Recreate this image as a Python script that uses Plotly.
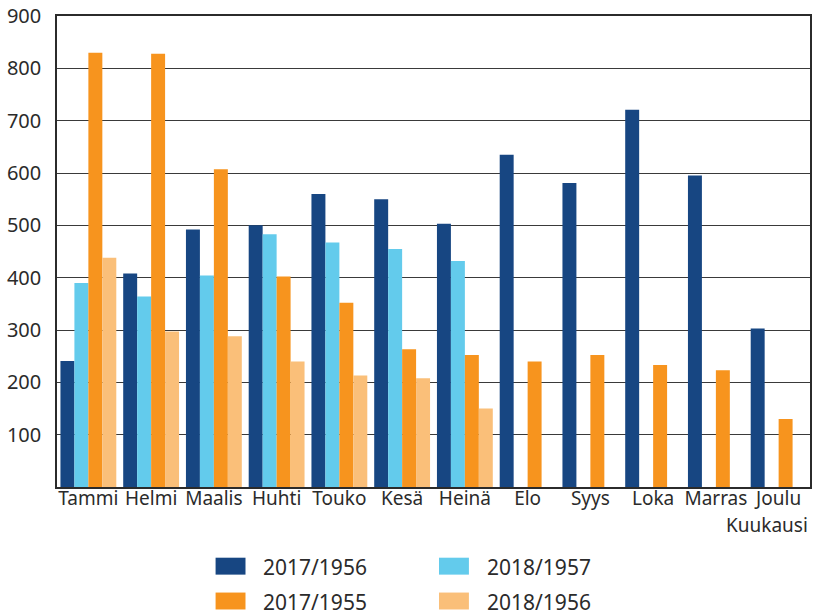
import plotly.graph_objects as go

months = ['Tammi', 'Helmi', 'Maalis', 'Huhti', 'Touko', 'Kesä', 'Heinä',
          'Elo', 'Syys', 'Loka', 'Marras', 'Joulu']

s2017_1956 = [241, 408, 492, 500, 560, 550, 503, 635, 581, 721, 595, 303]
s2018_1957 = [390, 364, 404, 483, 467, 455, 432, None, None, None, None, None]
s2017_1955 = [830, 828, 607, 402, 352, 263, 252, 240, 252, 233, 223, 130]
s2018_1956 = [438, 297, 288, 240, 213, 208, 150, None, None, None, None, None]

series_names = ['2017/1956', '2018/1957', '2017/1955', '2018/1956']
series_values = [s2017_1956, s2018_1957, s2017_1955, s2018_1956]
colors = ['#174682', '#63CBEC', '#F7941E', '#FABF79']

y_ticks = [100, 200, 300, 400, 500, 600, 700, 800, 900]

W, H = 814, 616
L, R, T, B = 57, 2, 14, 129
TEXT = '#2b2b2b'
FONT = 'Noto Sans'


def px(x):
    """pixel x -> paper x"""
    return (x - L) / (W - L - R)


def py(y):
    """pixel y -> paper y"""
    return (H - B - y) / (H - T - B)


fig = go.Figure()
for name, vals, col in zip(series_names, series_values, colors):
    fig.add_trace(go.Bar(x=months, y=vals, name=name, marker_color=col,
                         marker_line_width=0, showlegend=False))

fig.update_layout(
    width=W, height=H,
    margin={'l': L, 'r': R, 't': T, 'b': B},
    paper_bgcolor='white', plot_bgcolor='white',
    barmode='group', bargap=0.11, bargroupgap=0,
    font={'family': FONT, 'color': TEXT, 'size': 19},
)

fig.update_yaxes(range=[0, 900], tickvals=y_ticks, showgrid=True,
                 gridcolor='#3a3a3a', gridwidth=1, zeroline=False,
                 showline=True, linecolor='#2b2b2b', linewidth=1.5, mirror=True,
                 ticks='', ticklabelstandoff=10, tickfont={'size': 20})
fig.update_xaxes(showline=True, linecolor='#2b2b2b', linewidth=1.5, mirror=True,
                 ticks='', tickfont={'size': 19}, ticklabelstandoff=-7)

# axis title
fig.add_annotation(x=1, y=py(525), xref='paper', yref='paper', text='Kuukausi',
                   showarrow=False, xanchor='right', yanchor='middle',
                   font={'size': 19})

# legend drawn as swatches + labels
legend_pos = [(216, 558), (440, 558), (216, 593), (440, 593)]
for (lx, ly), name, col in zip(legend_pos, series_names, colors):
    fig.add_shape(type='rect', xref='paper', yref='paper',
                  x0=px(lx), x1=px(lx + 30), y0=py(ly), y1=py(ly + 17),
                  fillcolor=col, line_width=0)
    fig.add_annotation(x=px(lx + 46), y=py(ly + 9), xref='paper', yref='paper',
                       text=name, showarrow=False, xanchor='left', yanchor='middle',
                       font={'size': 21})

# page has a default 8px body margin; drop it so the figure fills the window
fig.write_html('out.html', config={'displayModeBar': False},
               post_script="document.body.style.margin='0';")
